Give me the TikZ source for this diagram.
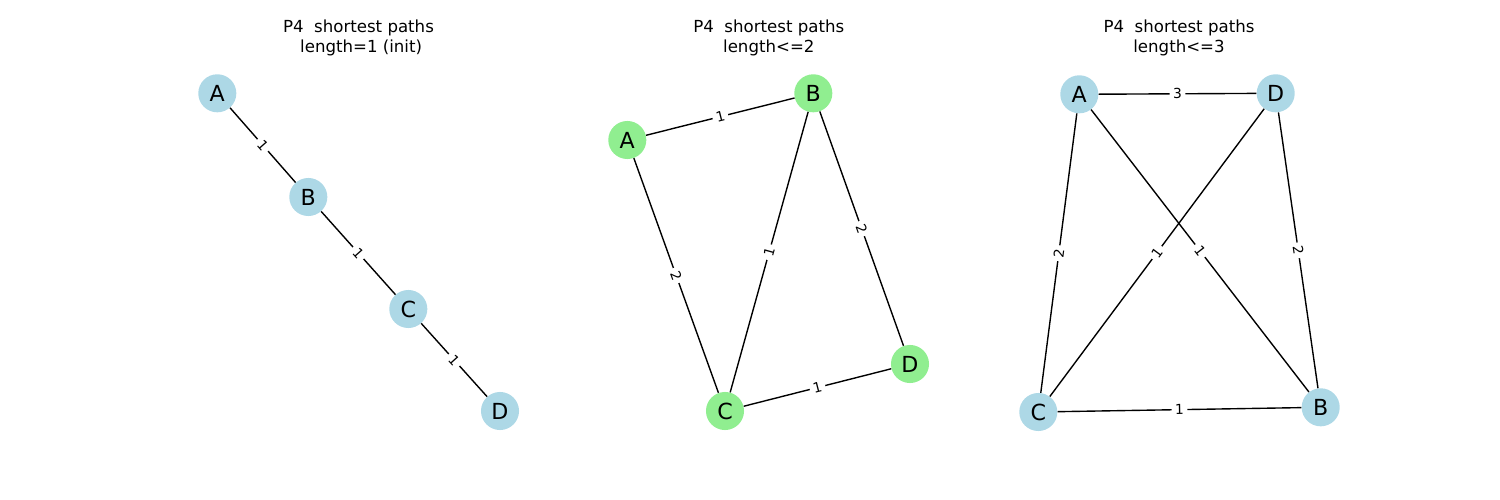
\documentclass[tikz,border=0pt]{standalone}
\usepackage{fontspec}
\setmainfont{DejaVu Sans}
\definecolor{lblue}{HTML}{ADD8E6}
\definecolor{lgreen}{HTML}{90EE90}
\begin{document}
\begin{tikzpicture}[x=0.72bp,y=-0.72bp,
  vtx/.style={circle,minimum size=27.4bp,inner sep=0pt,font=\fontsize{16}{19}\selectfont},
  vb/.style={vtx,fill=lblue},
  vg/.style={vtx,fill=lgreen},
  edge/.style={draw=black,line width=1bp},
  elab/.style={fill=white,inner sep=2.5bp,font=\fontsize{10}{12}\selectfont,sloped,midway},
  ttl/.style={align=center,font=\fontsize{12}{15}\selectfont}]
\useasboundingbox (0,0) rectangle (1500,500);

% titles
\node[ttl] (t1) at (358.5,38) {P4\ \ shortest paths\\\ length=1 (init)};
\node[ttl] (t2) at (768.8,38) {P4\ \ shortest paths\\length<=2};
\node[ttl] (t3) at (1179,38) {P4\ \ shortest paths\\length<=3};

% panel 1
\node[vb] (a1) at (217.3,93.3) {A};
\node[vb] (b1) at (308.3,197) {B};
\node[vb] (c1) at (408.3,309) {C};
\node[vb] (d1) at (500,411) {D};
\draw[edge] (a1) -- node[elab] {1} (b1);
\draw[edge] (b1) -- node[elab] {1} (c1);
\draw[edge] (c1) -- node[elab] {1} (d1);

% panel 2
\node[vg] (a2) at (627.3,140) {A};
\node[vg] (b2) at (813.3,93.3) {B};
\node[vg] (c2) at (725,411) {C};
\node[vg] (d2) at (910,364) {D};
\draw[edge] (a2) -- node[elab] {1} (b2);
\draw[edge] (a2) -- node[elab] {2} (c2);
\draw[edge] (b2) -- node[elab] {1} (c2);
\draw[edge] (b2) -- node[elab] {2} (d2);
\draw[edge] (c2) -- node[elab] {1} (d2);

% panel 3
\node[vb] (a3) at (1079.3,94.3) {A};
\node[vb] (d3) at (1275.7,93.3) {D};
\node[vb] (c3) at (1038.3,412) {C};
\node[vb] (b3) at (1320.7,407.3) {B};
\draw[edge] (a3) -- node[elab] {3} (d3);
\draw[edge] (a3) -- node[elab] {2} (c3);
\draw[edge] (a3) -- node[elab] {1} (b3);
\draw[edge] (d3) -- node[elab] {1} (c3);
\draw[edge] (d3) -- node[elab] {2} (b3);
\draw[edge] (c3) -- node[elab] {1} (b3);
\end{tikzpicture}
\end{document}
